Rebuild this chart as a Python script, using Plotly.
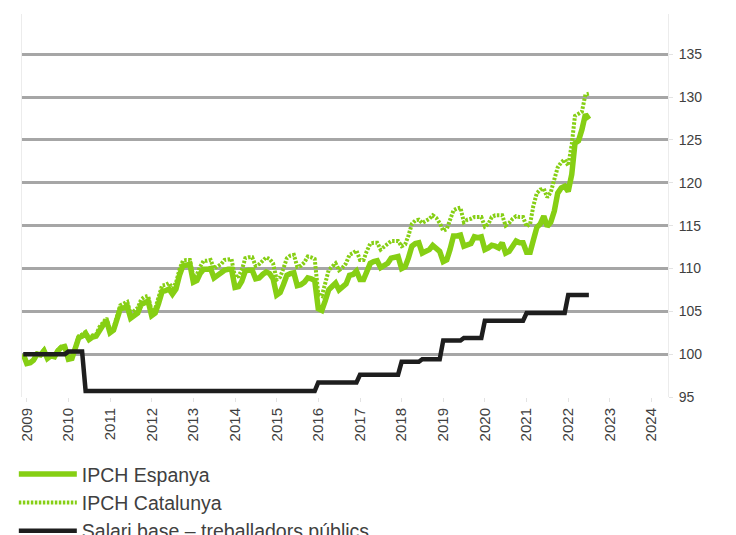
import pandas as pd
import plotly.graph_objects as go

# Monthly dates: Dec 2008 .. Jul 2022
months = pd.date_range("2008-12-01", "2022-07-01", freq="MS")

# IPCH Espanya (index, Dec 2008 = 100)
ipch_espanya = [
    100.0,
    98.9, 99.0, 99.3, 100.0, 99.9, 100.4, 99.5, 99.8, 99.7, 100.4, 100.8, 100.8,      # 2009
    99.4, 99.5, 100.6, 101.9, 102.1, 102.4, 101.7, 102.0, 102.1, 102.9, 103.4, 103.9,  # 2010
    102.5, 102.8, 103.9, 105.3, 105.4, 105.6, 104.2, 104.5, 104.8, 105.8, 106.1, 106.2,  # 2011
    104.5, 104.8, 105.9, 107.3, 107.4, 107.6, 107.0, 107.6, 109.2, 110.3, 110.4, 110.5,  # 2012
    108.4, 108.6, 109.4, 109.9, 109.9, 110.0, 108.9, 109.2, 109.4, 109.8, 109.9, 109.9,  # 2013
    107.8, 107.9, 108.5, 109.7, 109.8, 109.8, 108.8, 108.9, 109.3, 109.6, 109.4, 108.8,  # 2014
    106.9, 107.2, 108.1, 109.2, 109.4, 109.5, 108.0, 108.1, 108.4, 108.9, 108.8, 108.6,  # 2015
    105.3, 105.1, 106.2, 107.5, 107.9, 108.3, 107.5, 107.8, 108.2, 109.2, 109.3, 109.7,  # 2016
    108.7, 108.7, 109.7, 110.6, 110.8, 110.9, 110.1, 110.4, 110.6, 111.2, 111.3, 111.4,  # 2017
    110.0, 110.2, 111.2, 112.6, 112.9, 113.0, 111.8, 112.0, 112.2, 112.7, 112.4, 112.0,  # 2018
    110.8, 111.0, 112.2, 113.8, 113.8, 113.9, 112.6, 112.8, 112.9, 113.7, 113.6, 113.7,  # 2019
    112.2, 112.4, 112.7, 112.6, 112.4, 113.0, 111.8, 112.0, 112.6, 113.2, 113.0, 113.0,  # 2020
    111.9, 111.9, 113.3, 114.8, 115.2, 116.1, 114.9, 115.4, 116.7, 118.8, 119.4, 119.6,  # 2021
    119.0, 121.0, 124.6, 124.9, 126.2, 128.0, 127.4,                                      # 2022
]

# IPCH Catalunya (index, Dec 2008 = 100)
ipch_catalunya = [
    100.0,
    98.9, 99.0, 99.4, 100.1, 100.0, 100.5, 99.6, 99.9, 99.8, 100.5, 100.9, 101.0,        # 2009
    99.5, 99.6, 100.7, 102.1, 102.3, 102.6, 101.9, 102.2, 102.3, 103.2, 103.7, 104.2,    # 2010
    102.8, 103.1, 104.3, 105.7, 105.9, 106.1, 104.7, 105.0, 105.4, 106.4, 106.7, 106.8,  # 2011
    105.0, 105.3, 106.5, 108.0, 108.1, 108.3, 107.7, 108.3, 109.9, 110.9, 111.0, 111.0,  # 2012
    109.0, 109.3, 110.2, 110.9, 110.9, 111.0, 110.0, 110.3, 110.5, 111.0, 111.1, 111.1,  # 2013
    109.0, 109.1, 109.8, 111.2, 111.3, 111.3, 110.3, 110.5, 110.9, 111.3, 111.1, 110.6,  # 2014
    108.7, 109.0, 110.0, 111.2, 111.5, 111.6, 110.2, 110.3, 110.7, 111.4, 111.3, 111.1,  # 2015
    107.0, 106.8, 108.2, 109.8, 110.2, 110.6, 109.8, 110.1, 110.6, 111.6, 111.8, 112.1,  # 2016
    111.0, 111.0, 112.0, 112.9, 113.0, 113.0, 112.2, 112.5, 112.8, 113.2, 113.2, 113.2,  # 2017
    112.6, 112.8, 113.8, 115.2, 115.6, 115.7, 115.3, 115.5, 115.8, 116.2, 115.9, 115.3,  # 2018
    114.4, 114.6, 115.6, 116.8, 117.0, 117.1, 115.4, 115.7, 115.8, 116.0, 116.0, 116.0,  # 2019
    114.9, 115.2, 116.0, 116.2, 116.2, 116.2, 115.0, 115.3, 115.8, 116.1, 116.0, 116.0,  # 2020
    114.9, 115.2, 117.3, 118.8, 119.2, 119.3, 118.3, 118.9, 120.4, 121.8, 122.4, 122.7,  # 2021
    122.0, 124.5, 127.8, 128.0, 128.3, 130.3, 130.4,                                      # 2022
]

# Salari base - treballadors públics (index, breakpoints of the step line)
salari_dates = [
    "2008-12-01", "2009-12-01", "2010-01-01", "2010-05-01", "2010-06-01", "2015-12-01",
    "2016-01-01", "2016-12-01", "2017-01-01", "2017-12-01", "2018-01-01", "2018-06-01",
    "2018-07-01", "2018-12-01", "2019-01-01", "2019-06-01", "2019-07-01", "2019-12-01",
    "2020-01-01", "2020-12-01", "2021-01-01", "2021-12-01", "2022-01-01", "2022-07-01",
]
salari_values = [
    100.0, 100.0, 100.3, 100.3, 95.7, 95.7,
    96.7, 96.7, 97.6, 97.6, 99.1, 99.1,
    99.4, 99.4, 101.6, 101.6, 101.9, 101.9,
    103.9, 103.9, 104.8, 104.8, 106.9, 106.9,
]

series_names = ["IPCH Espanya", "IPCH Catalunya", "Salari base – treballadors públics"]
year_ticks = [f"{y}-01-01" for y in range(2009, 2025)]
year_labels = [str(y) for y in range(2009, 2025)]
y_ticks = [95, 100, 105, 110, 115, 120, 125, 130, 135]

GREEN = "#86cf14"
BLACK = "#1e1e1e"

fig = go.Figure()
fig.add_trace(go.Scatter(
    x=months, y=ipch_espanya, mode="lines", name=series_names[0],
    line=dict(color=GREEN, width=5.5),
))
fig.add_trace(go.Scatter(
    x=months, y=ipch_catalunya, mode="lines", name=series_names[1],
    line=dict(color=GREEN, width=4, dash="2.5px,1.5px"),
))
fig.add_trace(go.Scatter(
    x=pd.to_datetime(salari_dates), y=salari_values, mode="lines", name=series_names[2],
    line=dict(color=BLACK, width=4.5),
))

# The page body has an 8px default margin, so the figure is sized to the rest of the window
fig.update_layout(
    width=728, height=527,
    margin=dict(l=14, r=68, t=6, b=138, autoexpand=False),
    paper_bgcolor="white", plot_bgcolor="white",
    font=dict(family="Liberation Sans, Arial, sans-serif", color="#404040"),
    showlegend=True,
    legend=dict(
        xref="container", yref="container", x=0.008, y=0.152,
        xanchor="left", yanchor="top",
        font=dict(size=19.5, color="#404040"),
        itemwidth=58,
        maxheight=300,
        bgcolor="rgba(0,0,0,0)",
    ),
)

fig.update_xaxes(
    type="date",
    range=["2008-11-20", "2024-05-25"],
    tickvals=year_ticks, ticktext=year_labels,
    tickangle=-90, tickfont=dict(size=15, color="#404040"),
    showgrid=False, zeroline=False, showline=False,
    ticks="outside", ticklen=4, tickcolor="#e3e3e3",
)
fig.update_yaxes(
    range=[95, 139.7], side="right",
    tickvals=y_ticks, ticktext=[str(v) for v in y_ticks],
    tickfont=dict(size=14, color="#404040"),
    ticklabelstandoff=3,
    showgrid=True, gridcolor="#a6a6a6", gridwidth=2.5,
    zeroline=False,
    showline=True, linecolor="#ececec", linewidth=1, mirror=True,
    ticks="outside", ticklen=4, tickcolor="#e3e3e3",
)

fig.write_html("out.html")
